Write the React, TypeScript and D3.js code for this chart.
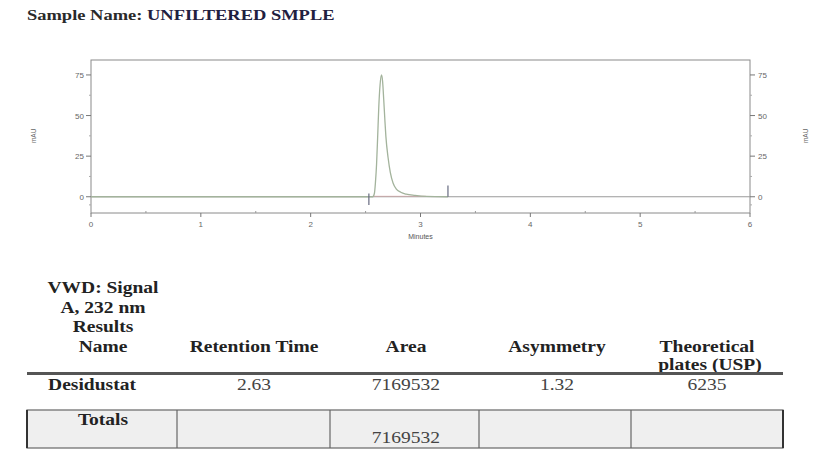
import React from "react";
import * as d3 from "d3";

const timeMin = [0, 2.5, 2.565, 2.58, 2.59, 2.6, 2.61, 2.62, 2.632, 2.645, 2.655, 2.665, 2.675, 2.685, 2.705, 2.725, 2.75, 2.78, 2.82, 2.87, 2.95, 3.05, 3.25];
const signalMAU = [0, 0, 0, 2, 9, 20, 37, 55, 69, 75, 71, 60, 48, 37, 24, 15, 8.5, 4.7, 2.8, 1.6, 0.8, 0.2, 0];
const xTicks = [0, 1, 2, 3, 4, 5, 6];
const xMinorTicks = [0.5, 1.5, 2.5, 3.5, 4.5, 5.5];
const yTicks = [0, 25, 50, 75];
const yMinorTicks = [-5, 12.5, 37.5, 62.5];
const eventTimes = [2.53, 3.25];
const eventSpans = [[2, -5], [0, 7]];

const sampleLabel = "Sample Name: ";
const sampleName = "UNFILTERED SMPLE";
const signalTitle = ["VWD: Signal", "A, 232 nm", "Results", "Name"];
const columnHeaders = ["Retention Time", "Area", "Asymmetry", "Theoretical"];
const compoundNames = ["Desidustat"];
const retentionTimes = ["2.63"];
const areas = ["7169532"];
const asymmetries = ["1.32"];
const plates = ["6235"];
const totalArea = "7169532";

const W = 813;
const H = 455;
const serif = "'Liberation Serif', 'Times New Roman', serif";
const sans = "'Liberation Sans', Arial, sans-serif";
const SX = 1.22;

function T({ x, y, children, bold = false, size = 16, fill = "#222", anchor = "middle", sx = SX }: any) {
  return (
    <text
      transform={`translate(${x},${y}) scale(${sx},1)`}
      textAnchor={anchor}
      fontFamily={serif}
      fontWeight={bold ? "bold" : "normal"}
      fontSize={size}
      fill={fill}
    >
      {children}
    </text>
  );
}

export default function App() {
  const x = d3.scaleLinear().domain([0, 6]).range([91, 750]);
  const y = d3.scaleLinear().domain([-10, 84.2]).range([213, 60]);
  const line = d3
    .line<number>()
    .x((_, i) => x(timeMin[i]))
    .y((d) => y(d))
    .curve(d3.curveMonotoneX);

  const colCenters = [103, 254, 406, 557, 707];
  const tableLeft = 27;
  const tableRight = 783;
  const dividers = [177, 330, 479, 631];

  return (
    <svg
      width={W}
      height={H}
      style={{ position: "absolute", left: 0, top: 0, background: "#fff" }}
    >
      {/* Title */}
      <text transform={`translate(27,20) scale(1.32,1)`} fontFamily={serif} fontWeight="bold" fontSize={14} fill="#2a2a2a">
        {sampleLabel}
        <tspan fill="#1f2040">{sampleName}</tspan>
      </text>

      {/* Plot frame */}
      <rect x={x(0)} y={y(84.2)} width={x(6) - x(0)} height={y(-10) - y(84.2)} fill="none" stroke="#8a8a8a" strokeWidth={1} />
      {/* Baseline */}
      <line x1={x(0)} x2={x(6)} y1={y(0)} y2={y(0)} stroke="#9a9a9a" strokeWidth={1} />
      {/* integration baseline */}
      <line x1={x(2.565)} x2={x(3.05)} y1={y(0) - 0.5} y2={y(0) - 0.5} stroke="#d9a0a0" strokeWidth={0.8} opacity={0.7} />
      {/* Trace */}
      <path d={line(signalMAU) || ""} fill="none" stroke="#a3b39c" strokeWidth={1.3} />
      {/* Event markers */}
      {eventTimes.map((t, i) => (
        <line key={i} x1={x(t)} x2={x(t)} y1={y(eventSpans[i][0])} y2={y(eventSpans[i][1])} stroke="#666a80" strokeWidth={1.2} />
      ))}

      {/* X axis */}
      {xTicks.map((t) => (
        <g key={t}>
          <line x1={x(t)} x2={x(t)} y1={y(-10)} y2={y(-10) + 4} stroke="#777" />
          <text x={x(t)} y={y(-10) + 14} textAnchor="middle" fontFamily={sans} fontSize={8} fill="#666">
            {t}
          </text>
        </g>
      ))}
      {xMinorTicks.map((t) => (
        <line key={t} x1={x(t)} x2={x(t)} y1={y(-10)} y2={y(-10) - 2} stroke="#999" />
      ))}
      <text x={x(3)} y={y(-10) + 26} textAnchor="middle" fontFamily={sans} fontSize={7} fill="#555">
        Minutes
      </text>

      {/* Y axes */}
      {yTicks.map((v) => (
        <g key={v}>
          <line x1={x(0) - 5} x2={x(0)} y1={y(v)} y2={y(v)} stroke="#777" />
          <text x={x(0) - 7} y={y(v) + 3} textAnchor="end" fontFamily={sans} fontSize={8} fill="#666">
            {v}
          </text>
          <line x1={x(6)} x2={x(6) + 5} y1={y(v)} y2={y(v)} stroke="#777" />
          <text x={x(6) + 8} y={y(v) + 3} textAnchor="start" fontFamily={sans} fontSize={8} fill="#666">
            {v}
          </text>
        </g>
      ))}
      {yMinorTicks.map((v) => (
        <g key={v}>
          <line x1={x(0) - 2} x2={x(0)} y1={y(v)} y2={y(v)} stroke="#aaa" />
          <line x1={x(6)} x2={x(6) + 2} y1={y(v)} y2={y(v)} stroke="#aaa" />
        </g>
      ))}
      <text transform={`translate(36,${y(37.5)}) rotate(-90)`} textAnchor="middle" fontFamily={sans} fontSize={6.5} fill="#666">
        mAU
      </text>
      <text transform={`translate(808,${y(37.5)}) rotate(-90)`} textAnchor="middle" fontFamily={sans} fontSize={6.5} fill="#666">
        mAU
      </text>

      {/* Table header */}
      {signalTitle.map((s, i) => (
        <T key={s} x={colCenters[0]} y={293 + i * 19.5} bold>
          {s}
        </T>
      ))}
      {columnHeaders.map((h, i) => (
        <T key={h} x={colCenters[i + 1]} y={351.5} bold>
          {h}
        </T>
      ))}
      <T x={colCenters[4] + 3} y={370} bold>
        plates (USP)
      </T>
      <line x1={tableLeft} x2={tableRight} y1={373.5} y2={373.5} stroke="#555" strokeWidth={3} />

      {/* Data row */}
      {compoundNames.map((n, i) => (
        <g key={n}>
          <T x={92} y={390 + i * 20} bold>
            {n}
          </T>
          <T x={colCenters[1]} y={390 + i * 20} fill="#444">
            {retentionTimes[i]}
          </T>
          <T x={colCenters[2]} y={390 + i * 20} fill="#444">
            {areas[i]}
          </T>
          <T x={colCenters[3]} y={390 + i * 20} fill="#444">
            {asymmetries[i]}
          </T>
          <T x={colCenters[4]} y={390 + i * 20} fill="#444">
            {plates[i]}
          </T>
        </g>
      ))}

      {/* Totals */}
      <rect x={tableLeft} y={410} width={tableRight - tableLeft} height={38} fill="#efefef" stroke="#666" strokeWidth={1.2} />
      <line x1={tableLeft} x2={tableLeft} y1={410} y2={448} stroke="#333" strokeWidth={2} />
      <line x1={tableRight} x2={tableRight} y1={410} y2={448} stroke="#333" strokeWidth={2} />
      {dividers.map((d) => (
        <line key={d} x1={d} x2={d} y1={410} y2={448} stroke="#666" strokeWidth={1.2} />
      ))}
      <T x={colCenters[0]} y={425} bold>
        Totals
      </T>
      <T x={colCenters[2]} y={443} fill="#444">
        {totalArea}
      </T>
    </svg>
  );
}
